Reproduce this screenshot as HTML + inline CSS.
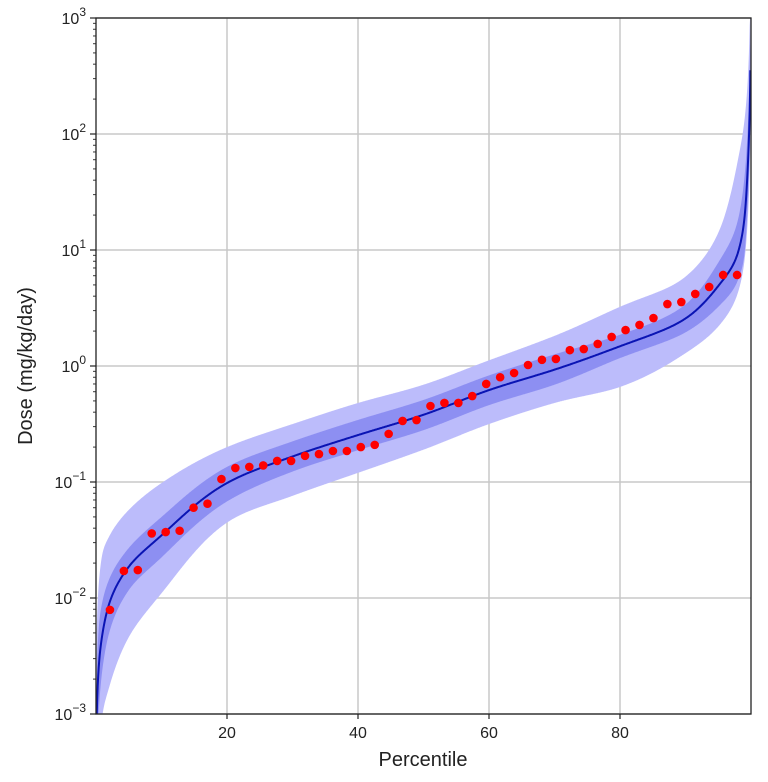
<!DOCTYPE html>
<html><head><meta charset="utf-8"><style>
html,body{margin:0;padding:0;background:#fff;overflow:hidden;width:768px;height:782px;}
svg{display:block;}
svg text{font-family:"Liberation Sans",sans-serif;fill:#222;}
</style></head><body>
<svg id="chart" width="768" height="782" xmlns="http://www.w3.org/2000/svg"></svg>
<script>
// ---- data ----
const curvePercentiles=[0.1,0.5,1,2,5,10,20,30,40,50,60,70,80,90,95,98,99,99.5,99.9];
const medianDose=[0.00089,0.00295,0.005,0.0089,0.0186,0.0347,0.098,0.166,0.254,0.38,0.62,0.93,1.48,2.57,4.9,9.5,19,52,355];
const innerHi=[0.002,0.0063,0.0095,0.0145,0.027,0.05,0.135,0.224,0.343,0.51,0.83,1.26,1.86,3.4,7.8,18.2,42.7,112,800];
const innerLo=[0.00032,0.00126,0.0025,0.005,0.0117,0.0224,0.068,0.123,0.188,0.28,0.46,0.69,1.17,1.95,3.24,5.5,9.3,25,158];
const outerHi=[0.005,0.0151,0.0245,0.0339,0.0575,0.098,0.2,0.316,0.48,0.69,1.12,1.82,3.24,5.9,14.1,60,132,295,2000];
const outerLo=[0.0001,0.0005,0.001,0.0017,0.0046,0.011,0.0447,0.076,0.12,0.19,0.316,0.48,0.66,1.29,2.19,4.3,8.1,18.2,93];
const observedDose=[0.0079,0.0171,0.0174,0.036,0.037,0.038,0.060,0.065,0.106,0.132,0.135,0.139,0.152,0.152,0.168,0.174,0.185,0.185,0.20,0.209,0.26,0.336,0.342,0.452,0.48,0.48,0.551,0.70,0.80,0.87,1.02,1.13,1.15,1.37,1.40,1.55,1.78,2.04,2.26,2.59,3.42,3.56,4.18,4.80,6.09,6.09];
const xTicks=[20,40,60,80];
const yTickExps=[-3,-2,-1,0,1,2,3];

const L=96,R=751,T=18,B=714;
const sx=p=>L+(p/100)*(R-L);
const sy=v=>B-(Math.log10(v)+3)/6*(B-T);
const clampY=y=>Math.max(T-2,Math.min(B+2,y));
const NS="http://www.w3.org/2000/svg";
const svg=document.getElementById('chart');
function mk(tag,attrs,parent){const e=document.createElementNS(NS,tag);for(const k in attrs)e.setAttribute(k,attrs[k]);(parent||svg).appendChild(e);return e;}

// probit transform (interpolation space only)
function probit(p){p=p/100;const a=[-39.6968302866538,220.946098424521,-275.928510446969,138.357751867269,-30.6647980661472,2.50662827745924],
 b=[-54.4760987982241,161.585836858041,-155.698979859887,66.8013118877197,-13.2806815528857],
 c=[-0.00778489400243029,-0.322396458041136,-2.40075827716184,-2.54973253934373,4.37466414146497,2.93816398269878],
 d=[0.00778469570904146,0.32246712907004,2.445134137143,3.75440866190742];
 const pl=0.02425;let q,r;
 if(p<pl){q=Math.sqrt(-2*Math.log(p));return (((((c[0]*q+c[1])*q+c[2])*q+c[3])*q+c[4])*q+c[5])/((((d[0]*q+d[1])*q+d[2])*q+d[3])*q+1);}
 if(p>1-pl){q=Math.sqrt(-2*Math.log(1-p));return -(((((c[0]*q+c[1])*q+c[2])*q+c[3])*q+c[4])*q+c[5])/((((d[0]*q+d[1])*q+d[2])*q+d[3])*q+1);}
 q=p-0.5;r=q*q;return (((((a[0]*r+a[1])*r+a[2])*r+a[3])*r+a[4])*r+a[5])*q/(((((b[0]*r+b[1])*r+b[2])*r+b[3])*r+b[4])*r+1);}

function interp(xs,ys){
  const n=xs.length,d=[],m=new Array(n);
  for(let i=0;i<n-1;i++)d.push((ys[i+1]-ys[i])/(xs[i+1]-xs[i]));
  m[0]=d[0];m[n-1]=d[n-2];
  for(let i=1;i<n-1;i++){m[i]=(d[i-1]*d[i]<=0)?0:(d[i-1]+d[i])/2;}
  for(let i=0;i<n-1;i++){if(d[i]===0){m[i]=m[i+1]=0;continue;}const a=m[i]/d[i],b=m[i+1]/d[i],s=a*a+b*b;if(s>9){const t=3/Math.sqrt(s);m[i]=t*a*d[i];m[i+1]=t*b*d[i];}}
  return x=>{let i=0;while(i<n-2&&x>xs[i+1])i++;const h=xs[i+1]-xs[i],t=(x-xs[i])/h,t2=t*t,t3=t2*t;
    return (2*t3-3*t2+1)*ys[i]+(t3-2*t2+t)*h*m[i]+(-2*t3+3*t2)*ys[i+1]+(t3-t2)*h*m[i+1];};
}
function curvePts(vals){
  const f=interp(curvePercentiles.map(probit),vals.map(v=>Math.log10(v)));const pts=[];
  const p0=curvePercentiles[0],p1=curvePercentiles[curvePercentiles.length-1];
  for(let x=sx(p0);x<=sx(p1);x+=0.5){const p=(x-L)/(R-L)*100;pts.push([x,clampY(sy(Math.pow(10,f(probit(p)))))]);}
  pts.push([sx(p1),clampY(sy(vals[vals.length-1]))]);return pts;
}
function band(lo,hi){const a=curvePts(hi),b=curvePts(lo).reverse();return 'M'+a.concat(b).map(p=>p[0].toFixed(1)+','+p[1].toFixed(1)).join('L')+'Z';}

mk('rect',{x:0,y:0,width:768,height:782,fill:'#fff'});
const defs=mk('defs',{});const cp=mk('clipPath',{id:'clip'},defs);mk('rect',{x:L,y:T,width:R-L,height:B-T},cp);

const grid=mk('g',{stroke:'#c8c8c8','stroke-width':1.5});

xTicks.forEach(t=>mk('line',{x1:sx(t),x2:sx(t),y1:T,y2:B},grid));
yTickExps.forEach(e=>mk('line',{x1:L,x2:R,y1:sy(Math.pow(10,e)),y2:sy(Math.pow(10,e))},grid));

const plot=mk('g',{'clip-path':'url(#clip)'});
const ob=mk('path',{d:band(outerLo,outerHi),fill:'#bcbcfb'},plot);

const ib=mk('path',{d:band(innerLo,innerHi),fill:'#8d8ff2'},plot);

const ln=mk('path',{d:'M'+curvePts(medianDose).map(p=>p[0].toFixed(1)+','+p[1].toFixed(1)).join('L'),fill:'none',stroke:'#0a14b4','stroke-width':2},plot);


observedDose.forEach((v,i)=>{const p=(i+1)*100/(observedDose.length+1);
  const c=mk('circle',{cx:sx(p),cy:sy(v),r:4.3,fill:'#ff0000'},plot);
  
  });

const fr=mk('rect',{x:L,y:T,width:R-L,height:B-T,fill:'none',stroke:'#222','stroke-width':1.3});


xTicks.forEach(t=>{mk('line',{x1:sx(t),x2:sx(t),y1:B,y2:B+5,stroke:'#222','stroke-width':1.2});
  const tx=mk('text',{x:sx(t),y:B+24,'font-size':16,'text-anchor':'middle'});tx.textContent=t;
  });
yTickExps.forEach(e=>{const y=sy(Math.pow(10,e));
  mk('line',{x1:L-6,x2:L,y1:y,y2:y,stroke:'#222','stroke-width':1.2});
  if(e<3)for(let k=2;k<10;k++){const yy=sy(k*Math.pow(10,e));mk('line',{x1:L-3,x2:L,y1:yy,y2:yy,stroke:'#222','stroke-width':0.9});}
  const tx=mk('text',{x:L-10,y:y+6,'font-size':16,'text-anchor':'end'});
  
  const b=mk('tspan',{},tx);b.textContent='10';
  const s=mk('tspan',{dy:-8,'font-size':12},tx);s.textContent=String(e).replace('-','\u2212');});

const xl=mk('text',{x:423,y:766,'font-size':20,'text-anchor':'middle'});xl.textContent='Percentile';

const yl=mk('text',{x:0,y:0,'font-size':20,'text-anchor':'middle',transform:'translate(32,366) rotate(-90)'});yl.textContent='Dose (mg/kg/day)';

</script>
</body></html>
